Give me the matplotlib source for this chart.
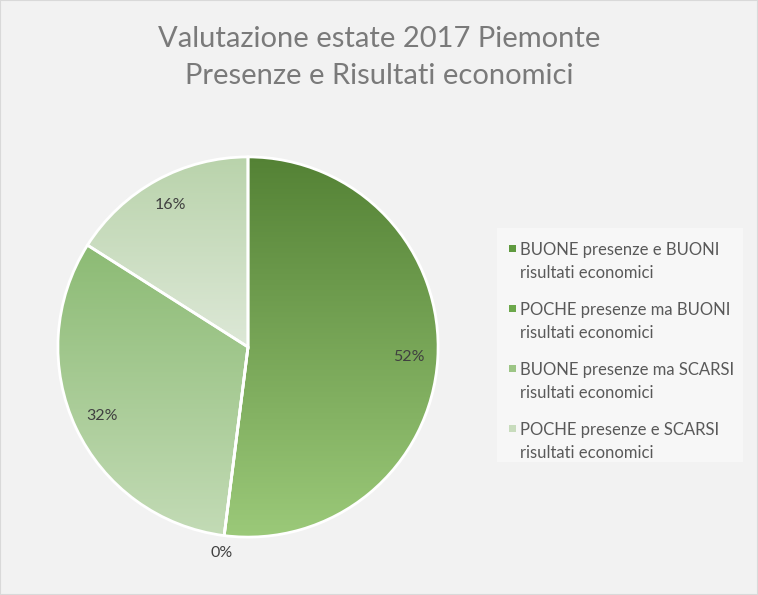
import numpy as np
import matplotlib
matplotlib.use("Agg")
from matplotlib import pyplot as plt
from matplotlib.colors import LinearSegmentedColormap
from matplotlib.patches import Rectangle

# data
title = "Valutazione estate 2017 Piemonte\nPresenze e Risultati economici"
categories = [
    "BUONE presenze e BUONI\nrisultati economici",
    "POCHE presenze ma BUONI\nrisultati economici",
    "BUONE presenze ma SCARSI\nrisultati economici",
    "POCHE presenze e SCARSI\nrisultati economici",
]
values = [52, 0, 32, 16]

# gradient colours (top, bottom) per slice
top_colors = ["#548235", "#62993f", "#8cbb74", "#b9d3ab"]
bottom_colors = ["#9bc979", "#a6cf88", "#c3dbb6", "#dde8d7"]
legend_colors = ["#5f9a3f", "#6ca84b", "#9cc585", "#c8dcbd"]

plt.rcParams['font.family'] = ['Lato', 'DejaVu Sans']

W, H = 758, 595
fig = plt.figure(figsize=(W / 100, H / 100), dpi=100)
fig.patch.set_facecolor("#f2f2f2")
fig.patches.append(Rectangle((0, 0), 1, 1, transform=fig.transFigure,
                             fill=False, edgecolor="#d9d9d9", linewidth=1.5))

ax = fig.add_axes([56 / W, 56 / H, 384 / W, 384 / H])
ax.set_facecolor("none")

wedges, texts, autotexts = ax.pie(
    values, startangle=90, counterclock=False, radius=1,
    autopct=lambda p: "%.0f%%" % p, pctdistance=0.85,
    wedgeprops=dict(edgecolor="white", linewidth=2),
    textprops=dict(color="#404040", fontsize=11.5))

for w, c1, c2 in zip(wedges, top_colors, bottom_colors):
    bb = w.get_path().get_extents()
    cmap = LinearSegmentedColormap.from_list("g", [c2, c1])
    grad = np.linspace(0, 1, 256).reshape(-1, 1)
    im = ax.imshow(grad, cmap=cmap, origin="lower", aspect="auto",
                   extent=[bb.x0, bb.x1, bb.y0, bb.y1], zorder=1)
    im.set_clip_path(w)
    w.set_facecolor("none")
    w.set_zorder(2)

# zero slices: put label just outside the rim
for w, t, v in zip(wedges, autotexts, values):
    if v == 0:
        ang = np.deg2rad(w.theta1)
        t.set_position((1.09 * np.cos(ang), 1.09 * np.sin(ang)))
    t.set_zorder(3)

ax.set_xlim(-1.01, 1.01)
ax.set_ylim(-1.01, 1.01)
ax.set_aspect("auto")

fig.text(0.5, 0.903, title, ha="center", va="center", fontsize=21,
         color="#7a7a7a", linespacing=1.5)

# legend box drawn by hand (two-line labels need wider line spacing)
fig.patches.append(Rectangle((497 / W, 1 - 462 / H), 246 / W, 234 / H,
                             transform=fig.transFigure, facecolor="#f7f7f7",
                             edgecolor="none", zorder=0))
for i, (lab, col) in enumerate(zip(categories, legend_colors)):
    y = 1 - (248 + 60 * i) / H
    fig.patches.append(Rectangle((509 / W, y - 3.5 / H), 7 / W, 7 / H,
                                 transform=fig.transFigure, facecolor=col,
                                 edgecolor="none", zorder=1))
    fig.text(520 / W, y + 6 / H, lab, ha="left", va="top", fontsize=12,
             color="#595959", linespacing=1.5)

fig.savefig("out.png", dpi=100, facecolor=fig.get_facecolor())
